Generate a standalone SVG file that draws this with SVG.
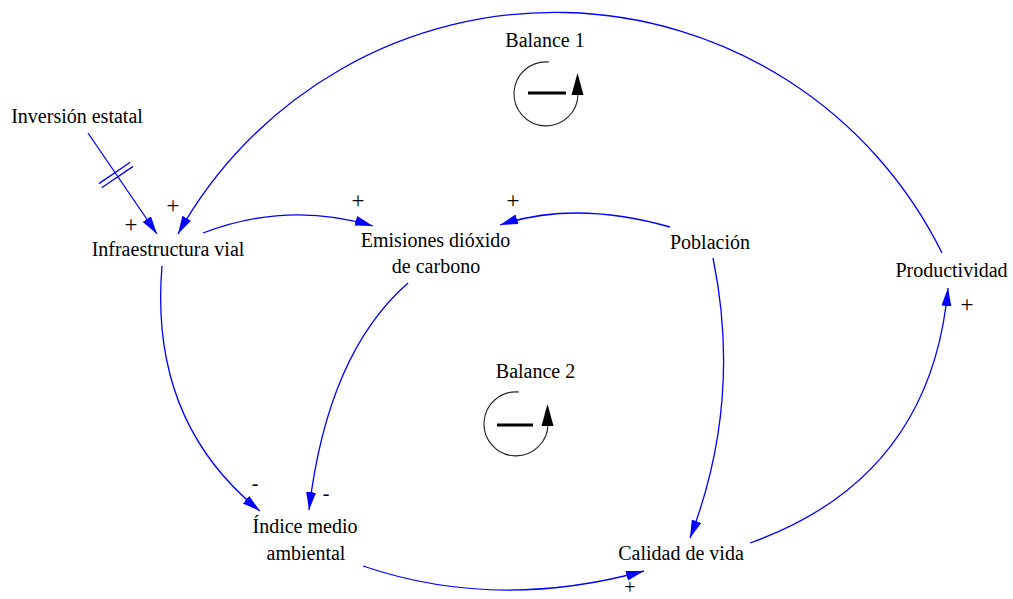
<svg xmlns="http://www.w3.org/2000/svg" width="1013" height="599" viewBox="0 0 1013 599">
  <style>
    .lbl { font-family: "Liberation Serif", "Times New Roman", serif; font-size: 20px; fill: #000; text-anchor: middle; }
    .pol { font-family: "Liberation Serif", "Times New Roman", serif; font-size: 23px; fill: #000; text-anchor: middle; }
    .neg { font-family: "Liberation Serif", "Times New Roman", serif; font-size: 20px; fill: #000; text-anchor: middle; }
    .link { fill: none; stroke: #0000ff; stroke-width: 1.3; marker-end: url(#ah); }
    .plain { fill: none; stroke: #0000ff; stroke-width: 1.3; }
    .loopc { fill: none; stroke: #222; stroke-width: 1.1; }
    .loopm { stroke: #000; stroke-width: 3.2; }
  </style>
  <defs>
    <marker id="ah" markerWidth="19" markerHeight="11" refX="18" refY="5" orient="auto" markerUnits="userSpaceOnUse">
      <path d="M0,0 L18,5 L0,10 z" fill="#0000ff"/>
    </marker>
  </defs>
  <rect x="0" y="0" width="1013" height="599" fill="#fff"/>

  <g id="connectors">
    <path class="link" d="M88,133 L157,234"/>
    <path class="plain" d="M98.9,183.6 L130.3,162.2"/>
    <path class="plain" d="M101.7,187.8 L133.1,166.4"/>
    <path class="link" d="M942,253 A431.5,431.5 0 0 0 178,234"/>
    <path class="link" d="M203,233 Q288,200.5 373,226"/>
    <path class="link" d="M670,227 Q575,200 500,225"/>
    <path class="link" d="M408,283 Q327.5,353.5 309,510"/>
    <path class="link" d="M162,266 Q149,421.5 260,511"/>
    <path class="link" d="M713,258 Q742.5,402 690,538"/>
    <path class="link" d="M363,566 Q496.5,611.5 644,571"/>
    <path class="link" d="M750,543 Q931,478.5 948,288"/>
    <text class="pol" x="131" y="232">+</text>
    <text class="pol" x="173" y="212.5">+</text>
    <text class="pol" x="358" y="207.5">+</text>
    <text class="pol" x="513" y="207.5">+</text>
    <text class="neg" x="326" y="500">-</text>
    <text class="neg" x="255" y="490">-</text>
    <text class="neg" x="630" y="594">+</text>
    <text class="pol" x="967" y="311.5">+</text>
  </g>

  <g id="n-inversion"><text class="lbl" x="77" y="123">Inversión estatal</text></g>
  <g id="n-infra"><text class="lbl" x="168" y="256">Infraestructura vial</text></g>
  <g id="n-emisiones">
    <text class="lbl" x="435.5" y="247">Emisiones dióxido</text>
    <text class="lbl" x="436" y="273">de carbono</text>
  </g>
  <g id="n-poblacion"><text class="lbl" x="710" y="249">Población</text></g>
  <g id="n-productividad"><text class="lbl" x="951.5" y="277">Productividad</text></g>
  <g id="n-indice">
    <text class="lbl" x="305" y="533">Índice medio</text>
    <text class="lbl" x="306" y="560">ambiental</text>
  </g>
  <g id="n-calidad"><text class="lbl" x="681" y="560">Calidad de vida</text></g>

  <g id="loop-balance1">
    <text class="lbl" x="545" y="47">Balance 1</text>
    <path class="loopc" d="M549,62 A32,32 0 1 0 578,94"/>
    <line class="loopm" x1="528" y1="93" x2="566" y2="93"/>
    <path d="M577.5,73 L583.5,95 L571.5,95 z" fill="#000"/>
  </g>
  <g id="loop-balance2">
    <text class="lbl" x="535.5" y="378">Balance 2</text>
    <path class="loopc" d="M519,392 A32,32 0 1 0 548,424"/>
    <line class="loopm" x1="497" y1="425" x2="533" y2="425"/>
    <path d="M547.5,404 L553.5,426 L541.5,426 z" fill="#000"/>
  </g>
</svg>
